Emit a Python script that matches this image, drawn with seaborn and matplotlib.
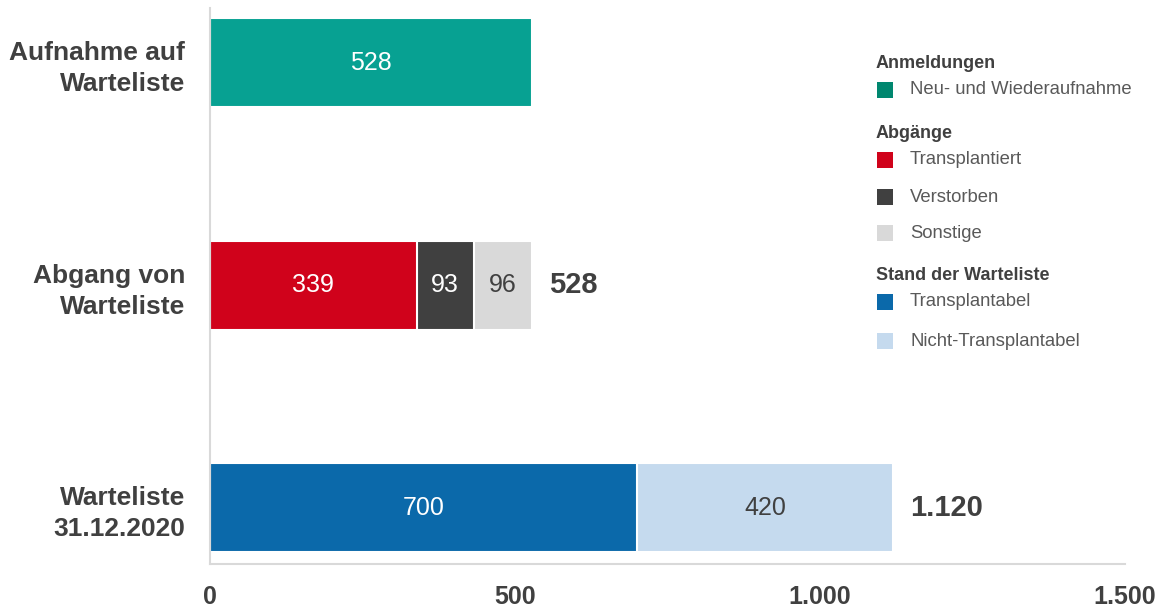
import matplotlib
matplotlib.use("Agg")
import matplotlib.pyplot as plt
import seaborn as sns
from matplotlib.patches import Rectangle

# Chart data
categories = ["Aufnahme auf\nWarteliste", "Abgang von\nWarteliste", "Warteliste\n31.12.2020"]
aufnahme_values = [528]
aufnahme_labels = ["Neu- und Wiederaufnahme"]
abgang_values = [339, 93, 96]
abgang_labels = ["Transplantiert", "Verstorben", "Sonstige"]
stand_values = [700, 420]
stand_labels = ["Transplantabel", "Nicht-Transplantabel"]
totals_text = {1: "528", 2: "1.120"}
x_ticks = [0, 500, 1000, 1500]
x_tick_labels = ["0", "500", "1.000", "1.500"]

DARK = "#404040"
colors = {
    "Neu- und Wiederaufnahme": "#07A192",
    "Transplantiert": "#D0021B",
    "Verstorben": "#404040",
    "Sonstige": "#D9D9D9",
    "Transplantabel": "#0B69AA",
    "Nicht-Transplantabel": "#C5DAEE",
}
text_colors = {
    "Neu- und Wiederaufnahme": "white",
    "Transplantiert": "white",
    "Verstorben": "white",
    "Sonstige": DARK,
    "Transplantabel": "white",
    "Nicht-Transplantabel": DARK,
}

sns.set_style("white")
plt.rcParams["font.family"] = ["Liberation Sans", "DejaVu Sans"]

fig = plt.figure(figsize=(11.63, 6.07), dpi=100)
ax = fig.add_axes([0.1806, 0.0708, 0.9673 - 0.1806, 0.9868 - 0.0708])

rows = [
    (0, aufnahme_values, aufnahme_labels),
    (1, abgang_values, abgang_labels),
    (2, stand_values, stand_labels),
]

for idx, values, labels in rows:
    cums = []
    total = 0
    for v in values:
        total += v
        cums.append(total)
    # draw cumulative bars from the longest to the shortest so they stack
    for cum, lab in reversed(list(zip(cums, labels))):
        sns.barplot(x=[cum], y=[categories[idx]], order=categories, orient="h",
                    color=colors[lab], saturation=1, width=0.4,
                    edgecolor="white", linewidth=1.5, ax=ax)
    start = 0
    for v, lab in zip(values, labels):
        ax.text(start + v / 2, idx, str(v), ha="center", va="center",
                fontsize=18, color=text_colors[lab])
        start += v
    if idx in totals_text:
        ax.text(total + 27, idx, totals_text[idx], ha="left", va="center",
                fontsize=21, fontweight="bold", color=DARK)

ax.set_xlim(0, 1500)
ax.set_ylim(2.252, -0.247)
ax.set_xticks(x_ticks)
ax.set_xticklabels(x_tick_labels)
ax.set_xlabel("")
ax.set_ylabel("")
ax.tick_params(axis="x", length=0, pad=15, labelsize=18, labelcolor=DARK)
ax.tick_params(axis="y", length=0, pad=18, labelsize=19, labelcolor=DARK)
for t in ax.get_xticklabels() + ax.get_yticklabels():
    t.set_fontweight("bold")
for t in ax.get_yticklabels():
    t.set_linespacing(1.35)

for side in ["top", "right"]:
    ax.spines[side].set_visible(False)
for side in ["left", "bottom"]:
    ax.spines[side].set_color("#D9D9D9")
    ax.spines[side].set_linewidth(1.5)

# legend drawn by hand, grouped with headers
W, H = 1163, 607
legend_colors = dict(colors)
legend_colors["Neu- und Wiederaufnahme"] = "#00876F"
legend_groups = [
    ("Anmeldungen", 63, [("Neu- und Wiederaufnahme", 90)]),
    ("Abgänge", 133, [("Transplantiert", 160), ("Verstorben", 197), ("Sonstige", 233)]),
    ("Stand der Warteliste", 276, [("Transplantabel", 302), ("Nicht-Transplantabel", 341)]),
]
for header, hy, items in legend_groups:
    fig.text(876 / W, 1 - hy / H, header, ha="left", va="center",
             fontsize=13, fontweight="bold", color=DARK)
    for lab, iy in items:
        fig.add_artist(Rectangle((877 / W, 1 - (iy + 8) / H), 16 / W, 16 / H,
                                 transform=fig.transFigure,
                                 facecolor=legend_colors[lab], edgecolor="none"))
        fig.text(910 / W, 1 - iy / H, lab, ha="left", va="center",
                 fontsize=13.3, color="#595959")

fig.savefig("out.png", dpi=100)
